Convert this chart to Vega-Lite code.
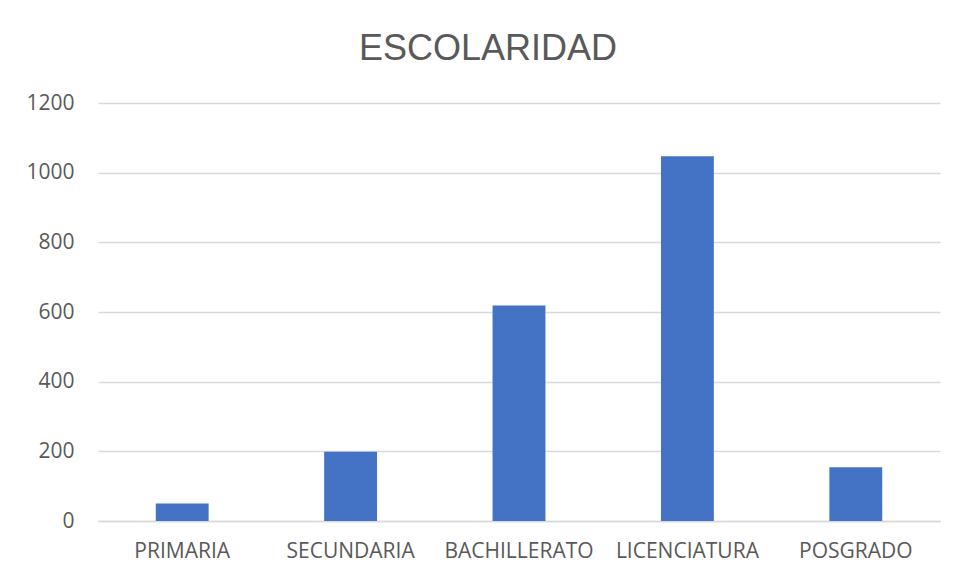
{
  "$schema": "https://vega.github.io/schema/vega-lite/v6.json",
  "width": 842,
  "height": 418,
  "autosize": {"type": "none"},
  "padding": {"left": 98, "top": 103, "right": 18, "bottom": 58},
  "background": "white",
  "title": {
    "text": "ESCOLARIDAD",
    "font": "Liberation Sans",
    "fontSize": 36,
    "fontWeight": "normal",
    "color": "#595959",
    "anchor": "middle",
    "dx": -31,
    "offset": 24
  },
  "data": {
    "values": [
      {"nivel": "PRIMARIA", "valor": 50},
      {"nivel": "SECUNDARIA", "valor": 199},
      {"nivel": "BACHILLERATO", "valor": 619},
      {"nivel": "LICENCIATURA", "valor": 1047},
      {"nivel": "POSGRADO", "valor": 154}
    ]
  },
  "mark": {"type": "bar", "color": "#4472C4"},
  "encoding": {
    "x": {
      "field": "nivel",
      "type": "nominal",
      "sort": null,
      "scale": {"paddingInner": 0.686, "paddingOuter": 0.343},
      "axis": {
        "title": null,
        "labelAngle": 0,
        "labelFont": "Open Sans",
        "labelFontSize": 21,
        "labelColor": "#595959",
        "labelPadding": 19,
        "ticks": false,
        "domain": true,
        "domainColor": "#d9d9d9",
        "domainWidth": 1.5
      }
    },
    "y": {
      "field": "valor",
      "type": "quantitative",
      "scale": {"domain": [0, 1200], "nice": false},
      "axis": {
        "title": null,
        "format": "d",
        "values": [0, 200, 400, 600, 800, 1000, 1200],
        "labelFont": "Open Sans",
        "labelFontSize": 21,
        "labelColor": "#595959",
        "labelPadding": 24,
        "ticks": false,
        "domain": false,
        "grid": true,
        "gridColor": "#d9d9d9",
        "gridWidth": 1.5
      }
    }
  },
  "config": {"view": {"stroke": null}}
}
